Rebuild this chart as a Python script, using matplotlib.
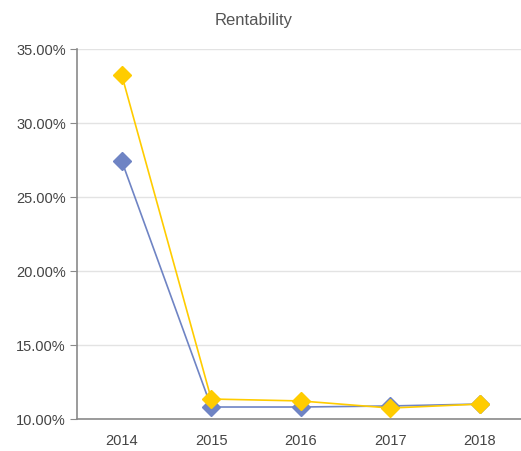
import matplotlib
matplotlib.use('Agg')
import matplotlib.pyplot as plt
from matplotlib.ticker import FuncFormatter

years = ['2014', '2015', '2016', '2017', '2018']
series_blue = [27.43, 10.81, 10.81, 10.88, 11.01]
series_yellow = [33.24, 11.35, 11.22, 10.74, 11.01]
yticks = [10, 15, 20, 25, 30, 35]

plt.rcParams['font.family'] = ['Liberation Sans', 'DejaVu Sans']

W, H = 521, 452
fig = plt.figure(figsize=(W / 100, H / 100), dpi=100)
ax = fig.add_axes([77 / W, 32 / H, 447.5 / W, 370 / H])

x = list(range(len(years)))
ax.plot(x, series_blue, color='#6f84c4', lw=1.2, marker='D', ms=9,
        mec='#6f84c4', mfc='#6f84c4', zorder=3)
ax.plot(x, series_yellow, color='#ffcc00', lw=1.2, marker='D', ms=9,
        mec='#ffcc00', mfc='#ffcc00', zorder=4)

ax.set_xlim(-0.5, 4.5)
ax.set_ylim(10, 35)
ax.set_xticks(x)
ax.set_xticklabels(years)
ax.set_yticks(yticks)
ax.yaxis.set_major_formatter(FuncFormatter(lambda v, p: f'{v:.2f}%'))
ax.grid(axis='y', color='#e3e3e3', lw=1)
ax.set_axisbelow(True)

for s in ['top', 'right']:
    ax.spines[s].set_visible(False)
for s in ['left', 'bottom']:
    ax.spines[s].set_color('#8a8a8a')
    ax.spines[s].set_linewidth(1.2)

ax.tick_params(axis='y', length=5, color='#8a8a8a', labelsize=10.5,
               labelcolor='#444444', pad=3)
ax.tick_params(axis='x', length=0, labelsize=10.5, labelcolor='#444444', pad=10)

fig.text(254 / W, 1 - 20 / H, 'Rentability', ha='center', va='center',
         fontsize=12, color='#555555')

fig.savefig('out.png', dpi=100)
